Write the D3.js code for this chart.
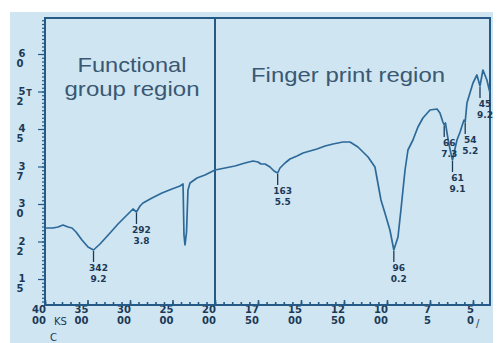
<!DOCTYPE html>
<html>
<head>
<meta charset="utf-8">
<script src="https://cdn.jsdelivr.net/npm/d3@7"></script>
<style>
  html, body { margin: 0; padding: 0; background: #ffffff; }
  svg { display: block; }
</style>
</head>
<body>
<svg id="chart" width="498" height="343"></svg>
<script>
// FTIR spectrum: wavenumber (cm-1) vs transmittance (%T)
const wavenumbers = [
  4000, 3906, 3847, 3788, 3729, 3682, 3635, 3565, 3494, 3429.2,
  3353, 3235, 3141, 3047, 2965, 2923.8, 2882, 2847, 2741, 2624,
  2506, 2412, 2376, 2365, 2353, 2335, 2318, 2294, 2212, 2118,
  2000, 1942, 1884, 1826, 1779, 1750, 1733, 1709, 1680, 1657,
  1635.5, 1622, 1593, 1564, 1523, 1488, 1448, 1407, 1360, 1314,
  1256, 1215, 1169, 1110, 1070, 1035, 1012, 983, 960.2, 936,
  919, 895, 878, 849, 820, 791, 750, 709, 692, 675,
  667.3, 660, 650, 640, 630, 619.1, 605, 593, 575, 560,
  552, 545.2, 535, 500, 477, 459.2, 442, 419, 401
];
const transmittance = [
  25.2, 25.2, 25.4, 25.8, 25.4, 25.2, 24.4, 22.8, 21.4, 20.8,
  22.0, 24.2, 26.0, 27.6, 29.0, 28.4, 29.6, 30.2, 31.2, 32.2,
  33.0, 33.6, 34.0, 23.8, 21.8, 24.4, 32.8, 34.2, 35.2, 35.8,
  36.8, 37.2, 37.6, 38.2, 38.6, 38.4, 38.0, 38.0, 37.4, 36.6,
  36.2, 37.2, 38.2, 39.0, 39.6, 40.2, 40.6, 41.0, 41.6, 42.0,
  42.4, 42.4, 41.4, 39.4, 37.4, 30.8, 28.2, 24.8, 20.8, 23.4,
  28.8, 36.8, 40.8, 42.8, 45.4, 47.2, 48.8, 49.0, 48.2, 46.4,
  45.8, 46.2, 44.0, 42.0, 40.4, 38.8, 41.0, 42.8, 44.4, 46.0,
  46.8, 46.4, 50.2, 54.2, 55.8, 53.6, 56.8, 54.8, 52.2
];

// Labelled absorption bands
const peakWavenumbers = [3429.2, 2923.8, 1635.5, 960.2, 667.3, 619.1, 545.2, 459.2];

// Axis ticks and their two-line labels
const xTicks = [4000, 3500, 3000, 2500, 2000, 1750, 1500, 1250, 1000, 750, 500];
const xTickTop = ["40", "35", "30", "25", "20", "17", "15", "12", "10", "7", "5"];
const xTickBottom = ["00", "00", "00", "00", "00", "50", "00", "50", "00", "5", "0"];
const yTicks = [15, 22.5, 30, 37.5, 45, 52.5, 60];
const yTickTop = ["1", "2", "3", "3", "4", "5", "6"];
const yTickBottom = ["5", "2", "0", "7", "5", "2", "0"];

const regionLabels = [
  ["Functional", "group region"],
  ["Finger print region"]
];

const svg = d3.select("#chart");
const plot = { left: 45, right: 490, top: 18, bottom: 305 };

// Instrument-style abscissa: the scale doubles below 2000 cm-1
const x = d3.scaleLinear()
  .domain([4000, 2000, 401])
  .range([plot.left, 215, plot.right]);
const y = d3.scaleLinear()
  .domain([9.8, 67.2])
  .range([plot.bottom, plot.top]);

const lineColor = "#2d6a99";
const frameColor = "#245a85";
const textColor = "#1c3956";
const captionFont = "Liberation Sans, Arial, sans-serif";

// Light blue panel
svg.append("rect")
  .attr("x", 10).attr("y", 12)
  .attr("width", 483).attr("height", 331)
  .attr("fill", "#cfe5f2");

// Region captions (slightly widened sans-serif)
function caption(text, cx, baseline, width) {
  svg.append("text")
    .attr("x", cx - width / 2)
    .attr("y", baseline)
    .attr("font-family", captionFont)
    .attr("font-size", 21)
    .attr("fill", "#3a5872")
    .attr("textLength", width)
    .attr("lengthAdjust", "spacingAndGlyphs")
    .text(text);
}
const leftCenter = (x(4000) + x(2000)) / 2 + 2;
caption(regionLabels[0][0], leftCenter, 72, 109);
caption(regionLabels[0][1], leftCenter, 96, 135);
caption(regionLabels[1][0], 348, 82, 194);

// Y axis: major ticks every 7.5 %T, minor ticks every 0.75
const yMinor = d3.range(10.5, 67.2, 0.75);
const yAxisMinor = d3.axisLeft(y).tickValues(yMinor).tickSize(3).tickFormat("");
const yAxisMajor = d3.axisLeft(y).tickValues(yTicks).tickSize(7).tickFormat("");
[yAxisMinor, yAxisMajor].forEach(ax => {
  const g = svg.append("g").attr("transform", `translate(${plot.left},0)`).call(ax);
  g.select(".domain").remove();
  g.selectAll("line").attr("stroke", frameColor).attr("stroke-width", 1.2);
});

const yLab = svg.append("g")
  .attr("font-family", "DejaVu Sans, sans-serif")
  .attr("font-weight", "bold")
  .attr("font-size", 10)
  .attr("fill", textColor);
yTicks.forEach((t, i) => {
  yLab.append("text").attr("x", 22).attr("y", y(t) + 3)
    .attr("text-anchor", "middle").text(yTickTop[i]);
  yLab.append("text").attr("x", 20).attr("y", y(t) + 13)
    .attr("text-anchor", "middle").text(yTickBottom[i]);
});
yLab.append("text").attr("x", 29).attr("y", y(52.5) + 4)
  .attr("font-size", 8).attr("text-anchor", "middle").text("T");

// X axis: inward minor ticks, 100 cm-1 above 2000 and 50 cm-1 below
const xMinor = d3.range(4000, 2000, -100).concat(d3.range(2000, 400, -50));
const xAxisMinor = d3.axisBottom(x).tickValues(xMinor).tickSize(-3).tickFormat("");
const xAxisMajor = d3.axisBottom(x).tickValues(xTicks).tickSize(-5).tickFormat("");
[xAxisMinor, xAxisMajor].forEach(ax => {
  const g = svg.append("g").attr("transform", `translate(0,${plot.bottom})`).call(ax);
  g.select(".domain").remove();
  g.selectAll("line").attr("stroke", frameColor).attr("stroke-width", 1.6);
});

const xLab = svg.append("g")
  .attr("font-family", "DejaVu Sans, sans-serif")
  .attr("font-weight", "bold")
  .attr("font-size", 10)
  .attr("fill", textColor)
  .attr("text-anchor", "end");
xTicks.forEach((t, i) => {
  xLab.append("text").attr("x", x(t) + 1).attr("y", 313).text(xTickTop[i]);
  xLab.append("text").attr("x", x(t) + 1).attr("y", 324).text(xTickBottom[i]);
});
svg.append("text").attr("x", 54).attr("y", 325)
  .attr("font-family", "DejaVu Sans, sans-serif").attr("font-size", 10)
  .attr("fill", textColor).text("KS");
svg.append("text").attr("x", 50).attr("y", 341)
  .attr("font-family", "DejaVu Sans, sans-serif").attr("font-size", 10)
  .attr("fill", textColor).text("C");
svg.append("text").attr("x", 476).attr("y", 327)
  .attr("font-family", "DejaVu Sans, sans-serif").attr("font-size", 10)
  .attr("fill", textColor).text("/");

// Plot frame and the region divider at 2000 cm-1
svg.append("rect")
  .attr("x", plot.left).attr("y", plot.top)
  .attr("width", plot.right - plot.left).attr("height", plot.bottom - plot.top)
  .attr("fill", "none").attr("stroke", frameColor).attr("stroke-width", 2);
svg.append("line")
  .attr("x1", x(2000)).attr("x2", x(2000))
  .attr("y1", plot.top).attr("y2", plot.bottom)
  .attr("stroke", frameColor).attr("stroke-width", 2);

// Spectrum trace
const points = wavenumbers.map((w, i) => [w, transmittance[i]]);
svg.append("path")
  .datum(points)
  .attr("fill", "none")
  .attr("stroke", lineColor)
  .attr("stroke-width", 1.7)
  .attr("stroke-linejoin", "round")
  .attr("d", d3.line().x(d => x(d[0])).y(d => y(d[1])));

// Band markers with their wavenumber split over two lines
const peaks = svg.append("g")
  .attr("font-family", "DejaVu Sans, sans-serif")
  .attr("font-weight", "bold")
  .attr("font-size", 9)
  .attr("fill", textColor)
  .attr("text-anchor", "middle");
peakWavenumbers.forEach(w => {
  const v = transmittance[wavenumbers.indexOf(w)];
  const px = x(w), py = y(v);
  const s = String(w);
  const cut = s.indexOf(".") - 1;
  peaks.append("line")
    .attr("x1", px).attr("x2", px)
    .attr("y1", py + 1).attr("y2", py + 12)
    .attr("stroke", "#1c3956").attr("stroke-width", 1.3);
  peaks.append("text").attr("x", px + 5).attr("y", py + 21).text(s.slice(0, cut));
  peaks.append("text").attr("x", px + 5).attr("y", py + 32).text(s.slice(cut));
});
</script>
</body>
</html>
